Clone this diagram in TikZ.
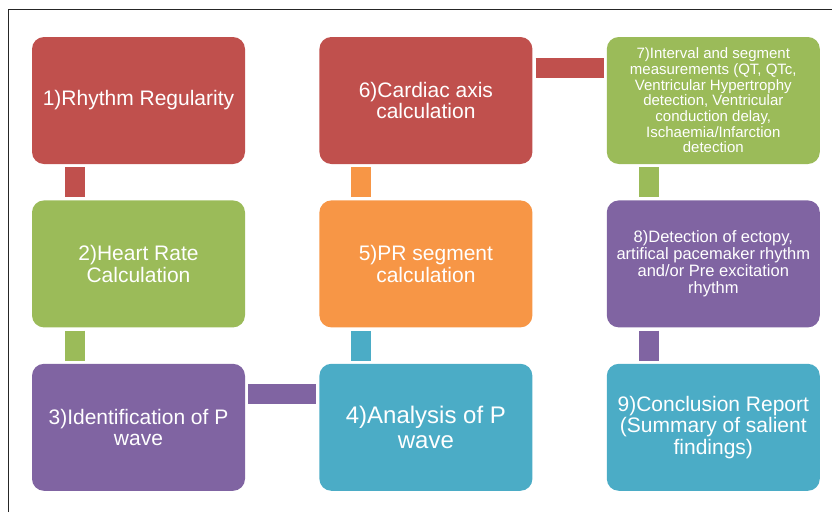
\documentclass[tikz,border=0pt]{standalone}
\usepackage{fontspec}
\setmainfont{Liberation Sans}
\usetikzlibrary{positioning}

\definecolor{boxred}{HTML}{C0504D}
\definecolor{boxgreen}{HTML}{9BBB59}
\definecolor{boxpurple}{HTML}{8064A2}
\definecolor{boxteal}{HTML}{4BACC6}
\definecolor{boxorange}{HTML}{F79646}

\begin{document}
\begin{tikzpicture}[x=1pt, y=-1pt,
stepbox/.style={rectangle, rounded corners=12pt, minimum width=213pt, minimum height=127pt, inner sep=0pt, text=white, align=center},
bigtext/.style={font=\fontsize{21}{21.5}\selectfont},
link/.style={line width=20pt, line cap=butt},
node distance=36pt and 74pt,
]
\useasboundingbox (0,0) rectangle (832,512);
\draw[line width=1pt, black!85] (8,512) -- (8,9) -- (832,9);

%Nodes
\node[stepbox, bigtext, fill=boxred]    (rhythm)   at (138.5,100.5)      {1)Rhythm Regularity};
\node[stepbox, bigtext, fill=boxgreen]  (heart)    [below=of rhythm]     {2)Heart Rate\\Calculation};
\node[stepbox, bigtext, fill=boxpurple] (ident)    [below=of heart]      {3)Identification of P\\wave};
\node[stepbox, fill=boxteal, font=\fontsize{24}{24.5}\selectfont]
                                        (analysis) [right=of ident]      {4)Analysis of P\\wave};
\node[stepbox, bigtext, fill=boxorange] (prseg)    [above=of analysis]   {5)PR segment\\calculation};
\node[stepbox, bigtext, fill=boxred]    (axis)     [above=of prseg]      {6)Cardiac axis\\calculation};
\node[stepbox, fill=boxgreen, font=\fontsize{15}{15.7}\selectfont]
                                        (interval) [right=of axis]       {7)Interval and segment\\measurements (QT, QTc,\\Ventricular Hypertrophy\\detection, Ventricular\\conduction delay,\\Ischaemia/Infarction\\detection};
\node[stepbox, fill=boxpurple, font=\fontsize{16.5}{16.8}\selectfont]
                                        (ectopy)   [below=of interval]   {8)Detection of ectopy,\\artifical pacemaker rhythm\\and/or Pre excitation\\rhythm};
\node[stepbox, bigtext, fill=boxteal]   (report)   [below=of ectopy]     {9)Conclusion Report\\(Summary of salient\\findings)};

%Lines
\draw[link, boxred]    ([xshift=43pt, yshift=-3pt]rhythm.south west) -- ([xshift=43pt, yshift=3pt]heart.north west);
\draw[link, boxgreen]  ([xshift=43pt, yshift=-3pt]heart.south west) -- ([xshift=43pt, yshift=3pt]ident.north west);
\draw[link, boxpurple] ([xshift=3pt, yshift=-30.5pt]ident.north east) -- ([xshift=-3pt, yshift=-30.5pt]analysis.north west);
\draw[link, boxteal]   ([xshift=42pt, yshift=3pt]analysis.north west) -- ([xshift=42pt, yshift=-3pt]prseg.south west);
\draw[link, boxorange] ([xshift=42pt, yshift=3pt]prseg.north west) -- ([xshift=42pt, yshift=-3pt]axis.south west);
\draw[link, boxred]    ([xshift=3pt, yshift=-31pt]axis.north east) -- ([xshift=-3pt, yshift=-31pt]interval.north west);
\draw[link, boxgreen]  ([xshift=42pt, yshift=-3pt]interval.south west) -- ([xshift=42pt, yshift=3pt]ectopy.north west);
\draw[link, boxpurple] ([xshift=42pt, yshift=-3pt]ectopy.south west) -- ([xshift=42pt, yshift=3pt]report.north west);
\end{tikzpicture}
\end{document}
